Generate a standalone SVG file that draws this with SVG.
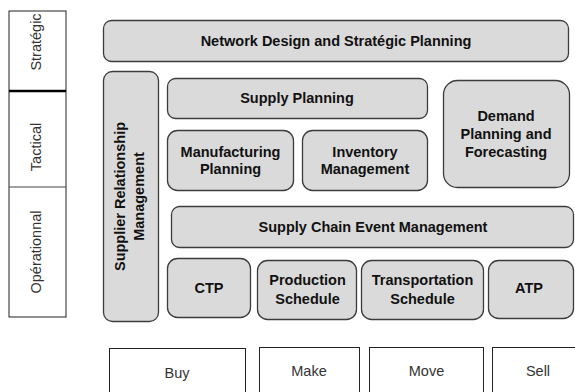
<svg xmlns="http://www.w3.org/2000/svg" width="575" height="392" viewBox="0 0 575 392">
<style>
  .box { fill: #dadada; stroke: #3c3c3c; stroke-width: 1.3; }
  .plain { fill: #ffffff; stroke: #222; stroke-width: 1; }
  .b { font-family: "Liberation Sans", Arial, sans-serif; font-weight: bold; font-size: 14.5px; fill: #111; text-anchor: middle; }
  .r { font-family: "Liberation Sans", Arial, sans-serif; font-size: 14.5px; fill: #333; text-anchor: middle; }
</style>
<rect width="575" height="392" fill="#ffffff"/>

<g id="levels">
  <rect class="plain" x="9" y="11" width="57" height="306" stroke="#444"/>
  <line x1="9" y1="91" x2="66" y2="91" stroke="#000" stroke-width="2.5"/>
  <line x1="9" y1="187" x2="66" y2="187" stroke="#444" stroke-width="1"/>
  <text class="r" transform="translate(41,42) rotate(-90)">Stratégic</text>
  <text class="r" transform="translate(41,147) rotate(-90)">Tactical</text>
  <text class="r" transform="translate(41,252) rotate(-90)">Opérationnal</text>
</g>

<g id="network-design">
  <rect class="box" x="103.5" y="20.5" width="465" height="41" rx="8"/>
  <text class="b" x="336" y="46">Network Design and Stratégic Planning</text>
</g>

<g id="supplier-relationship">
  <rect class="box" x="103.5" y="71.5" width="55" height="250" rx="9"/>
  <text class="b" transform="translate(125,196.5) rotate(-90)">Supplier Relationship</text>
  <text class="b" transform="translate(144,196.5) rotate(-90)">Management</text>
</g>

<g id="supply-planning">
  <rect class="box" x="167.5" y="78.5" width="260" height="40" rx="8"/>
  <text class="b" x="297" y="103">Supply Planning</text>
</g>

<g id="manufacturing-planning">
  <rect class="box" x="167.5" y="130.5" width="126" height="60" rx="10"/>
  <text class="b" x="230.5" y="157">Manufacturing</text>
  <text class="b" x="230.5" y="174">Planning</text>
</g>

<g id="inventory-management">
  <rect class="box" x="302.5" y="130.5" width="125" height="60" rx="10"/>
  <text class="b" x="365" y="157">Inventory</text>
  <text class="b" x="365" y="174">Management</text>
</g>

<g id="demand-planning">
  <rect class="box" x="443.5" y="80.5" width="126" height="107" rx="14"/>
  <text class="b" x="506" y="121">Demand</text>
  <text class="b" x="506" y="139">Planning and</text>
  <text class="b" x="506" y="157">Forecasting</text>
</g>

<g id="supply-chain-event">
  <rect class="box" x="171.5" y="206.5" width="402" height="41" rx="8"/>
  <text class="b" x="373" y="232">Supply Chain Event Management</text>
</g>

<g id="ctp">
  <rect class="box" x="167.5" y="258.5" width="83" height="59" rx="10"/>
  <text class="b" x="209" y="293">CTP</text>
</g>

<g id="production-schedule">
  <rect class="box" x="257.5" y="260.5" width="99" height="59" rx="10"/>
  <text class="b" x="307.5" y="285">Production</text>
  <text class="b" x="307.5" y="304">Schedule</text>
</g>

<g id="transportation-schedule">
  <rect class="box" x="361.5" y="260.5" width="122" height="59" rx="10"/>
  <text class="b" x="422.5" y="285">Transportation</text>
  <text class="b" x="422.5" y="304">Schedule</text>
</g>

<g id="atp">
  <rect class="box" x="488.5" y="260.5" width="85" height="58" rx="10"/>
  <text class="b" x="529" y="293">ATP</text>
</g>

<g id="buy">
  <rect class="plain" x="109.5" y="348.5" width="136" height="60"/>
  <text class="r" x="177" y="378">Buy</text>
</g>
<g id="make">
  <rect class="plain" x="259.5" y="347.5" width="100" height="60"/>
  <text class="r" x="309" y="376">Make</text>
</g>
<g id="move">
  <rect class="plain" x="369.5" y="347.5" width="114" height="60"/>
  <text class="r" x="426.5" y="376">Move</text>
</g>
<g id="sell">
  <rect class="plain" x="492.5" y="347.5" width="100" height="60"/>
  <text class="r" x="538" y="376">Sell</text>
</g>
</svg>
